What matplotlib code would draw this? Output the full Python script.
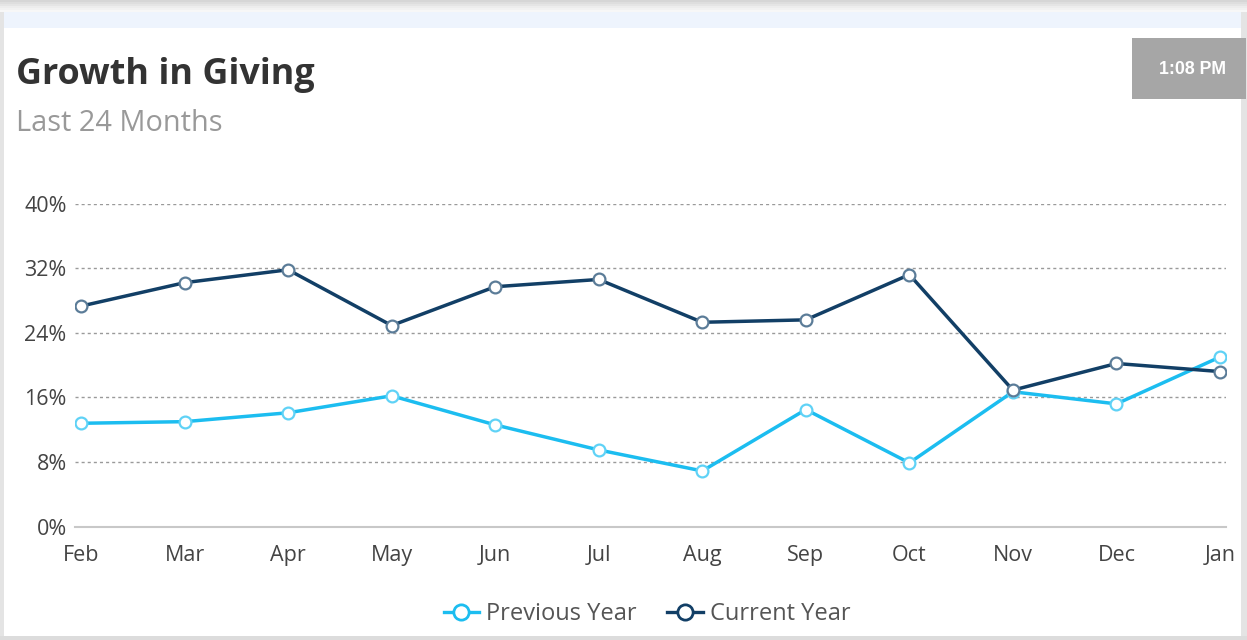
import matplotlib.pyplot as plt
from matplotlib.patches import Rectangle
from matplotlib.lines import Line2D
from matplotlib.ticker import FuncFormatter

months = ['Feb', 'Mar', 'Apr', 'May', 'Jun', 'Jul', 'Aug', 'Sep', 'Oct', 'Nov', 'Dec', 'Jan']
previous_year = [12.8, 13.0, 14.1, 16.2, 12.6, 9.5, 6.9, 14.5, 7.9, 16.7, 15.2, 21.0]
current_year = [27.3, 30.2, 31.8, 24.9, 29.7, 30.6, 25.3, 25.6, 31.2, 16.9, 20.2, 19.2]
y_ticks = [0, 8, 16, 24, 32, 40]

prev_color = '#1cbdf0'
cur_color = '#123f66'

fig = plt.figure(figsize=(12.47, 6.4), dpi=100)
fig.patch.set_facecolor('white')

W, H = 1247, 640

def px(x0, y0, x1, y1):
    # pixel box (top-left origin) -> figure fraction rect
    return (x0 / W, 1 - y1 / H, (x1 - x0) / W, (y1 - y0) / H)

def box(x0, y0, x1, y1, **kw):
    l, b, w, h = px(x0, y0, x1, y1)
    fig.patches.append(Rectangle((l, b), w, h, transform=fig.transFigure, lw=0, **kw))

# card frame: shadow, top strip, borders
for i, a in enumerate([0.16, 0.13, 0.10, 0.07, 0.05, 0.03]):
    box(0, i * 2, W, i * 2 + 2, color='black', alpha=a)
box(4, 12, 1241, 28, color='#eef4fd')
box(0, 12, 4, H, color='#e4e4e4')
box(1241, 12, W, H, color='#e4e4e4')
box(0, 636, W, H, color='#dcdcdc')

# time badge
box(1132, 38, 1246, 99, color='#a6a6a6')
fig.text(1193 / W, 1 - 70 / H, '1:08 PM', color='white', fontsize=12.8,
         fontweight='bold', family='Liberation Sans', ha='center', va='center')

# title and subtitle
fig.text(16 / W, 1 - 84 / H, 'Growth in Giving', fontsize=25.8, fontweight='bold',
         color='#333333', family='Open Sans', ha='left', va='baseline')
fig.text(16 / W, 1 - 131 / H, 'Last 24 Months', fontsize=20.8,
         color='#999999', family='Open Sans', ha='left', va='baseline')

ax = fig.add_axes([75 / W, 1 - 526.7 / H, (1226 - 75) / W, (526.7 - 203.5) / H])
x = list(range(len(months)))

ax.plot(x, previous_year, color=prev_color, lw=2.5, marker='o', ms=8.5,
        mfc='white', mec='#5fd2f6', mew=1.6, zorder=3)
ax.plot(x, current_year, color=cur_color, lw=2.5, marker='o', ms=8.5,
        mfc='white', mec='#5b7c98', mew=1.6, zorder=4)

pad = 6 / ((1219 - 81) / 11)
ax.set_xlim(-pad, 11 + pad)
ax.set_ylim(0, 40)
ax.set_yticks(y_ticks)
ax.yaxis.set_major_formatter(FuncFormatter(lambda v, p: f'{v:.0f}%'))
ax.set_xticks(x)
ax.set_xticklabels(months)

for s in ['top', 'right', 'left']:
    ax.spines[s].set_visible(False)
ax.spines['bottom'].set_color('#c8c8c8')
ax.spines['bottom'].set_linewidth(1.5)
ax.grid(axis='y', color='#9a9a9a', linestyle=(0, (2.2, 2.2)), linewidth=1.0)
ax.set_axisbelow(True)
ax.tick_params(axis='both', length=0, labelsize=15.5, labelcolor='#444444')
ax.tick_params(axis='x', pad=13)
ax.tick_params(axis='y', pad=6)
for lab in ax.get_xticklabels() + ax.get_yticklabels():
    lab.set_family('Open Sans')

handles = [
    Line2D([], [], color=prev_color, lw=2.4, marker='o', ms=11, mfc='white',
           mec=prev_color, mew=2),
    Line2D([], [], color=cur_color, lw=2.4, marker='o', ms=11, mfc='white',
           mec=cur_color, mew=2),
]
fig.legend(handles, ['Previous Year', 'Current Year'], loc='center',
           bbox_to_anchor=(647 / W, 1 - 614 / H), ncol=2, frameon=False,
           handlelength=1.5, handletextpad=0.3, columnspacing=1.3,
           prop={'family': 'Open Sans', 'size': 17}, labelcolor='#555555')

fig.savefig('out.png', dpi=100)
